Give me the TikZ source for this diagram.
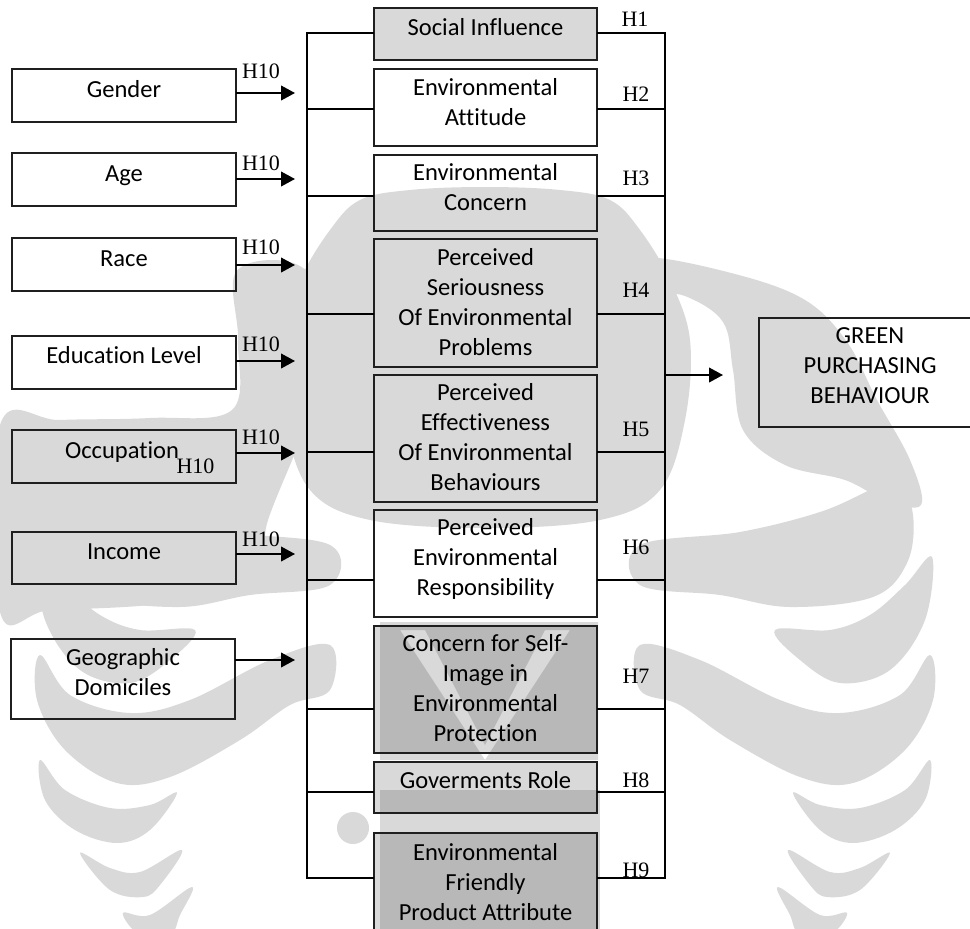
\documentclass[tikz,border=0pt]{standalone}
\usepackage{fontspec}
\setmainfont[Ligatures={NoCommon}]{Carlito}
\newfontfamily\hypfont{Liberation Serif}
\usetikzlibrary{arrows.meta}

% sweeping crescents down one flank of the background emblem,
% x measured from the emblem's axis
\newcommand{\emblemcrescents}{%
  \fill[wm] plot[smooth cycle, tension=0.6] coordinates {
    (155,545) (255,532) (335,512) (385,490) (412,478) (428,515) (422,563)
    (388,597) (305,607) (235,595) (155,585)};
  \fill[wm] plot[smooth cycle, tension=0.6] coordinates {
    (290,630) (315,660) (355,683) (405,670) (440,620) (447,557) (420,585)
    (385,615) (345,630)};
  \fill[wm] plot[smooth cycle, tension=0.6] coordinates {
    (155,645) (215,660) (295,700) (355,713) (415,695) (445,655) (448,700)
    (420,750) (368,783) (315,777) (245,740) (195,705) (155,690)};
  \fill[wm] plot[smooth cycle, tension=0.6] coordinates {
    (308,793) (335,830) (368,843) (410,830) (440,800) (445,760) (420,790)
    (375,808) (335,805)};
  \fill[wm] plot[smooth cycle, tension=0.6] coordinates {
    (303,850) (325,885) (342,897) (375,890) (405,853) (375,868) (345,872)};
  \fill[wm] plot[smooth cycle, tension=0.6] coordinates {
    (293,887) (305,915) (315,935) (345,935) (362,913) (335,915)};
}

\begin{document}
\begin{tikzpicture}[x=0.75pt,y=-0.75pt,
  every node/.style={inner sep=0pt, outer sep=0pt},
  wm/.style={fill=black!15},
  frame/.style={draw=black!88, line width=1.3pt},
  shaded/.style={frame, fill=black, fill opacity=0.15},
  lbox/.style={frame, minimum width=168pt},
  cbox/.style={frame, minimum width=167.25pt},
  txt/.style={align=center, font=\fontsize{18.4}{22.5}\selectfont,
    execute at begin node=\strut, execute at end node=\strut},
  hyp/.style={font=\hypfont\fontsize{16.5}{18}\selectfont,
    text height=10.9pt, text depth=0pt},
  wire/.style={line width=1.4pt, black},
  feed/.style={wire, -{Triangle[length=10.5pt,width=11pt]}},
]
\useasboundingbox (0,0) rectangle (970,928);
\fill[white] (0,0) rectangle (970,928);

% ---------- background emblem ----------
\begin{scope}
  \clip (0,0) rectangle (970,928);
  % head
  \fill[wm] plot[smooth cycle, tension=0.6] coordinates {
    (485,187) (560,190) (610,200) (640,230) (670,280) (690,340) (685,420)
    (660,490) (600,520) (485,528) (370,520) (310,490) (285,420) (280,340)
    (300,280) (330,230) (360,200) (410,190)};
  % right flank band
  \fill[wm] plot[smooth cycle, tension=0.6] coordinates {
    (645,258) (735,274) (805,300) (847,342) (877,400) (910,460) (921,505)
    (885,500) (845,480) (785,465) (743,430) (733,370) (723,322) (685,296)
    (645,290)};
  % left flank band
  \fill[wm] plot[smooth cycle, tension=0.6] coordinates {
    (236,272) (290,262) (320,295) (318,380) (300,440) (268,520) (250,590)
    (150,605) (50,610) (0,612) (0,425) (60,420) (150,418) (232,410)
    (238,340)};
  % lower face with the V cut out
  \fill[wm, even odd rule] (380,622) rectangle (598,760)
    (400,630) -- (425,630) -- (485,745) -- (545,630) -- (570,630) -- (485,760) -- cycle;
  \fill[wm] (380,790) rectangle (600,940);
  \fill[wm] (353,828) circle[radius=16];
  \fill[wm] (547,827) circle[radius=16];
  \begin{scope}[shift={(485,0)}]
    \emblemcrescents
  \end{scope}
  \begin{scope}[shift={(485,0)}, xscale=-1]
    \emblemcrescents
  \end{scope}
\end{scope}

% ---------- demographic variables (left column) ----------
\node[lbox, minimum height=39.75pt] (gender) at (124,95.5) {};
\node[lbox, minimum height=39.75pt] (age)    at (124,179.5) {};
\node[lbox, minimum height=39.75pt] (race)   at (124,264.5) {};
\node[lbox, minimum height=39.75pt] (edu)    at (124,362.5) {};
\node[lbox, minimum height=39.75pt] (occ)    at (124,456.5) {};
\node[lbox, minimum height=39pt]    (inc)    at (124,558) {};
\node[lbox, minimum height=60pt]    (geo)    at (123,679) {};

\node[txt] (gender-t) at (124,91)  {Gender};
\node[txt] (age-t)    at (124,175) {Age};
\node[txt] (race-t)   at (124,260) {Race};
\node[txt] (edu-t)    at (124,357) {Education Level};
\node[txt] (occ-t)    at (122,452) {Occupation};
\node[txt] (inc-t)    at (124,553) {Income};
\node[txt] (geo-t)    at (123,676) {Geographic\\Domiciles};

% arrow tips in front of the left bus
\coordinate (tG) at (295,93);
\coordinate (tA) at (295,179);
\coordinate (tR) at (295,265);
\coordinate (tE) at (295,361);
\coordinate (tO) at (295,453);
\coordinate (tI) at (295,554);
\coordinate (tD) at (295,660);

\draw[feed] (gender.east |- tG) -- (tG);
\draw[feed] (age.east |- tA) -- (tA);
\draw[feed] (race.east |- tR) -- (tR);
\draw[feed] (edu.east |- tE) -- (tE);
\draw[feed] (occ.east |- tO) -- (tO);
\draw[feed] (inc.east |- tI) -- (tI);
\draw[feed] (geo.east |- tD) -- (tD);

\node[hyp] (h10a) at (261,71)    {H10};
\node[hyp] (h10b) at (261,163)   {H10};
\node[hyp] (h10c) at (261,247.5) {H10};
\node[hyp] (h10d) at (261,344.5) {H10};
\node[hyp] (h10e) at (261,437.5) {H10};
\node[hyp] (h10f) at (195.5,466) {H10};
\node[hyp] (h10g) at (261,539.5) {H10};

% ---------- psychological factors (middle column) ----------
\node[cbox, shaded, minimum height=39pt]    (soc) at (485.5,34) {};
\node[cbox, minimum height=57.75pt]         (att) at (485.5,107.5) {};
\node[cbox, minimum height=57pt]            (con) at (485.5,193) {};
\node[cbox, minimum height=96pt]            (ser) at (485.5,303) {};
\node[cbox, minimum height=95.25pt]         (eff) at (485.5,438.5) {};
\node[cbox, minimum height=80.25pt]         (res) at (485.5,563.5) {};
\node[cbox, shaded, minimum height=95.25pt] (img) at (485.5,689.5) {};
\node[cbox, shaded, minimum height=38.25pt] (gov) at (485.5,787.5) {};
\node[cbox, shaded, minimum height=77.25pt] (frd) at (485.5,884.5) {};

\node[txt] (soc-t) at (485.5,29)   {Social Influence};
\node[txt] (att-t) at (485.5,106)  {Environmental\\Attitude};
\node[txt] (con-t) at (485.5,191)  {Environmental\\Concern};
\node[txt] (ser-t) at (485.5,306.5){Perceived\\Seriousness\\Of Environmental\\Problems};
\node[txt] (eff-t) at (485.5,441)  {Perceived\\Effectiveness\\Of Environmental\\Behaviours};
\node[txt] (res-t) at (485.5,561)  {Perceived\\Environmental\\Responsibility};
\node[txt] (img-t) at (485.5,692)  {Concern for Self-\\Image in\\Environmental\\Protection};
\node[txt] (gov-t) at (485.5,782.5){Goverments Role};
\node[txt] (frd-t) at (485.5,886.5){Environmental\\Friendly\\Product Attribute};

% ---------- left and right buses ----------
\coordinate (L1) at (307,33);  \coordinate (R1) at (665,33);
\coordinate (L2) at (307,109); \coordinate (R2) at (665,109);
\coordinate (L3) at (307,196); \coordinate (R3) at (665,196);
\coordinate (L4) at (307,314); \coordinate (R4) at (665,314);
\coordinate (L5) at (307,452); \coordinate (R5) at (665,452);
\coordinate (L6) at (307,580); \coordinate (R6) at (665,580);
\coordinate (L7) at (307,709); \coordinate (R7) at (665,709);
\coordinate (L8) at (307,792); \coordinate (R8) at (665,792);
\coordinate (L9) at (307,878); \coordinate (R9) at (665,878);

\draw[wire] (soc.west |- L1) -- (L1) -- (L9) -- (frd.west |- L9);
\draw[wire] (soc.east |- R1) -- (R1) -- (R9) -- (frd.east |- R9);
\foreach \b/\k in {att/2,con/3,ser/4,eff/5,res/6,img/7,gov/8}{
  \draw[wire] (L\k) -- (\b.west |- L\k);
  \draw[wire] (\b.east |- R\k) -- (R\k);
}

\node[hyp] (h1) at (635,19.5)  {H1};
\node[hyp] (h2) at (636,94)    {H2};
\node[hyp] (h3) at (636,178)   {H3};
\node[hyp] (h4) at (636,290.5) {H4};
\node[hyp] (h5) at (636,429.5) {H5};
\node[hyp] (h6) at (636,547)   {H6};
\node[hyp] (h7) at (636,676)   {H7};
\node[hyp] (h8) at (636,780.5) {H8};
\node[hyp] (h9) at (636,870.5) {H9};

% ---------- outcome ----------
\node[frame, minimum width=166.5pt, minimum height=81.75pt] (gpb) at (870,372.5) {};
\node[txt] (gpb-t) at (870,370) {GREEN\\PURCHASING\\BEHAVIOUR};
\coordinate (out) at (665,375);
\coordinate (tB) at (723,375);
\draw[feed] (out) -- (tB);
\end{tikzpicture}
\end{document}
